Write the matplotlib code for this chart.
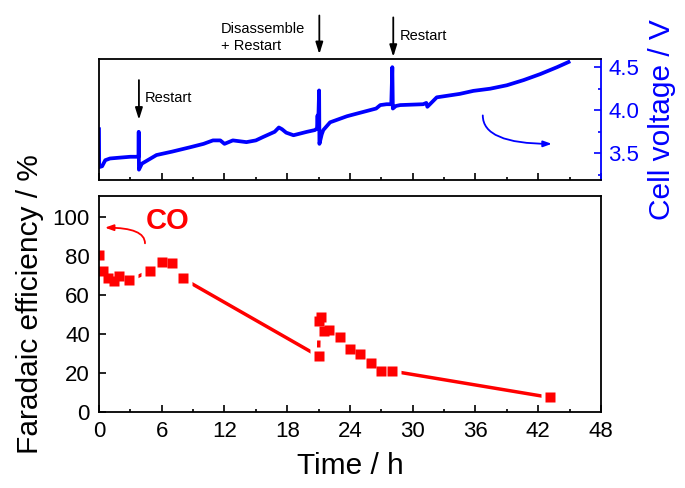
import matplotlib
matplotlib.use('Agg')
from matplotlib import pyplot as plt
from matplotlib.ticker import MultipleLocator

plt.rcParams['font.family'] = ['Liberation Sans', 'DejaVu Sans']

# Cell voltage trace (h, V)
tiempo_v = [0.0, 0.02, 0.3, 0.6, 1.05, 2.0, 3.0, 3.6, 3.78, 3.80, 3.82, 4.1,
            5.5, 7.0, 8.7, 10.0, 10.9, 11.6, 12.0, 12.8, 14.1, 15.0, 15.7,
            16.8, 17.2, 17.5, 17.9, 18.6, 19.9, 20.65, 20.85, 20.9, 20.95,
            21.05, 21.08, 21.3, 21.45, 22.1, 23.7, 24.0, 26.5, 26.9, 27.5,
            27.95, 28.05, 28.1, 28.4, 28.8, 31.0, 31.3, 31.4, 32.3, 34.5,
            35.8, 37.4, 39.0, 40.6, 42.2, 43.8, 44.9]
voltaje = [3.78, 3.34, 3.35, 3.42, 3.44, 3.45, 3.46, 3.46, 3.46, 3.75, 3.31, 3.38,
           3.48, 3.52, 3.57, 3.61, 3.65, 3.65, 3.61, 3.65, 3.63, 3.65, 3.69,
           3.75, 3.80, 3.78, 3.74, 3.71, 3.75, 3.77, 3.79, 3.94, 3.78,
           4.23, 3.61, 3.72, 3.77, 3.86, 3.93, 3.94, 4.02, 4.06, 4.07,
           4.07, 4.50, 4.02, 4.05, 4.06, 4.07, 4.085, 4.04, 4.15, 4.19,
           4.225, 4.25, 4.29, 4.35, 4.42, 4.50, 4.56]

# Faradaic efficiency of CO
tiempo_fe = [0.0, 0.35, 0.9, 1.4, 1.9, 2.9, 4.9, 6.0, 7.0, 8.0, 21.0, 21.05,
             21.2, 21.5, 22.0, 23.0, 24.0, 25.0, 26.0, 27.0, 28.0, 43.1]
fe_co = [80.4, 72.0, 68.4, 67.2, 69.7, 67.5, 72.2, 76.8, 76.1, 68.4, 28.6, 46.5,
         48.7, 41.4, 41.9, 38.2, 32.3, 29.7, 25.3, 21.0, 21.0, 7.5]

xticks = [0, 6, 12, 18, 24, 30, 36, 42, 48]

fig = plt.figure(figsize=(6.85, 4.88), dpi=100)
ax_v = fig.add_axes([0.1445, 0.6311, 0.7328, 0.248])
ax = fig.add_axes([0.1445, 0.1557, 0.7328, 0.4426])

# --- panel superior: voltaje ---
ax_v.plot(tiempo_v, voltaje, color='blue', lw=2.7, solid_joinstyle='round')
ax_v.set_xlim(0, 48)
ax_v.set_ylim(3.19, 4.595)
ax_v.set_xticks(xticks)
ax_v.xaxis.set_minor_locator(MultipleLocator(3))
ax_v.tick_params(axis='x', labelbottom=False, direction='in', length=4.8, width=1.2)
ax_v.tick_params(axis='x', which='minor', direction='in', length=2.4, width=1.2)
ax_v.yaxis.tick_right()
ax_v.yaxis.set_label_position('right')
ax_v.set_yticks([3.5, 4.0, 4.5])
ax_v.yaxis.set_minor_locator(MultipleLocator(0.25))
ax_v.tick_params(axis='y', which='both', direction='in', colors='blue', labelsize=16,
                 width=1.2, pad=5.5)
ax_v.tick_params(axis='y', which='major', length=4.8)
ax_v.tick_params(axis='y', which='minor', length=2.4)
ax_v.set_ylabel('Cell voltage / V', color='blue', fontsize=21.5, labelpad=6)
for s in ax_v.spines.values():
    s.set_linewidth(1.3)
ax_v.spines['right'].set_color('blue')

flecha = dict(arrowstyle='-|>,head_length=0.7,head_width=0.22', color='black', lw=1.3,
              shrinkA=0, shrinkB=0)
ax_v.annotate('', xy=(3.82, 3.89), xytext=(3.82, 4.35), arrowprops=flecha,
              annotation_clip=False)
ax_v.text(4.4, 4.143, 'Restart', fontsize=10.5, va='center', ha='left')
ax_v.annotate('', xy=(21.07, 4.651), xytext=(21.07, 5.10), arrowprops=flecha,
              annotation_clip=False)
ax_v.text(11.63, 4.843, 'Disassemble\n+ Restart', fontsize=10.5, va='center', ha='left',
          linespacing=1.25, clip_on=False)
ax_v.annotate('', xy=(28.14, 4.62), xytext=(28.14, 5.078), arrowprops=flecha,
              annotation_clip=False)
ax_v.text(28.78, 4.864, 'Restart', fontsize=10.5, va='center', ha='left', clip_on=False)
ax_v.annotate('', xy=(43.3, 3.61), xytext=(36.7, 3.94),
              arrowprops=dict(arrowstyle='-|>,head_length=0.5,head_width=0.18',
                              color='blue', lw=1.3, shrinkA=0, shrinkB=0,
                              connectionstyle='angle3,angleA=90,angleB=0'))

# --- panel inferior: eficiencia faradaica ---
ax.plot(tiempo_fe, fe_co, color='red', lw=2.5, zorder=2)
# huecos blancos alrededor de los marcadores, como en Origin
ax.plot(tiempo_fe, fe_co, 's', color='white', ms=12.5, mec='none', zorder=3)
ax.plot(tiempo_fe, fe_co, 's', color='red', ms=7.4, mec='none', zorder=4)
ax.set_xlim(0, 48)
ax.set_ylim(0, 110.6)
ax.set_xticks(xticks)
ax.xaxis.set_minor_locator(MultipleLocator(3))
ax.set_yticks([0, 20, 40, 60, 80, 100])
ax.tick_params(axis='both', which='both', direction='in', width=1.2, labelsize=16)
ax.tick_params(axis='both', which='major', length=4.8)
ax.tick_params(axis='x', which='minor', length=2.4)
ax.tick_params(axis='x', pad=6.5)
ax.tick_params(axis='y', pad=6.5)
for s in ax.spines.values():
    s.set_linewidth(1.3)
    s.set_zorder(5)
ax.set_xlabel('Time / h', fontsize=21.5, labelpad=7)
ax.set_ylabel('Faradaic efficiency / %', fontsize=21.5, labelpad=6)

ax.text(6.6, 97.8, 'CO', color='red', fontsize=21, fontweight='bold', ha='center', va='center')
ax.annotate('', xy=(0.57, 94.4), xytext=(4.4, 86.4),
            arrowprops=dict(arrowstyle='-|>,head_length=0.5,head_width=0.18',
                            color='red', lw=1.3, shrinkA=0, shrinkB=0,
                            connectionstyle='angle3,angleA=90,angleB=0'))

fig.savefig('out.png', dpi=100)
